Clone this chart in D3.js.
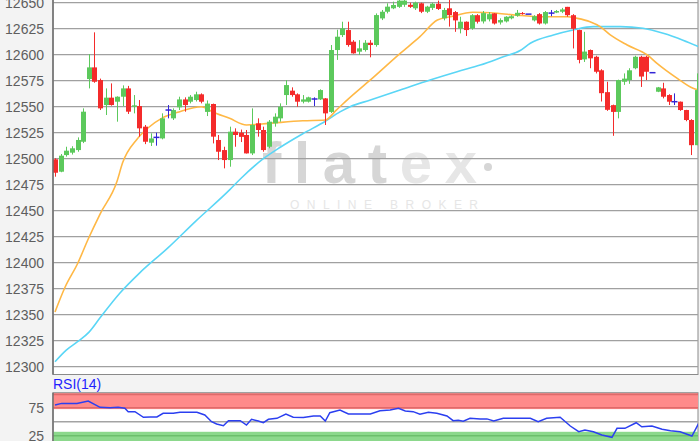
<!DOCTYPE html>
<html>
<head>
<meta charset="utf-8">
<script src="https://cdn.jsdelivr.net/npm/d3@7"></script>
<style>
  body { margin: 0; background: #f3f3f3; }
  svg { display: block; font-family: Arial, "Liberation Sans", sans-serif; }
</style>
</head>
<body>
<div id="chart-area"></div>
<script>
// candle chart with two moving averages + RSI(14) panel

const WIDTH = 700;
const HEIGHT = 441;

// price candles, one per bar
const opens = [12499.4, 12487.5, 12503.5, 12505.8, 12508.3, 12516.3, 12576.6, 12587.8, 12575.6, 12551.6,
  12558.7, 12554.8, 12559.6, 12567.6, 12550, 12550.6, 12530.8, 12515.4, 12520.5, 12519.5,
  12546.8, 12538.8, 12549.4, 12557, 12554.8, 12556.4, 12561.9, 12545, 12552.6, 12518,
  12508.3, 12498.7, 12526, 12525, 12522.8, 12505.1, 12534, 12527.6, 12511.5, 12534,
  12538.8, 12561.2, 12565.4, 12561.9, 12554.8, 12554.8, 12557.4, 12557, 12558, 12545,
  12604.5, 12618.9, 12623.7, 12612.5, 12602.9, 12604.5, 12611.5, 12609.3, 12634.9, 12641.3,
  12644.6, 12646, 12648, 12648, 12644.6, 12649.4, 12641.3, 12645, 12649, 12635,
  12644.6, 12641, 12625.3, 12631.7, 12625.3, 12638, 12632, 12634, 12639.7, 12631,
  12632, 12635, 12637.5, 12640, 12639, 12633, 12639, 12630, 12640, 12640.5,
  12641.3, 12646, 12638, 12623.7, 12595.5, 12604.5, 12598, 12585, 12564, 12551.5,
  12545, 12574, 12575.6, 12587, 12598, 12598, 12582.7, 12564.4, 12567.6, 12561.2,
  12554.8, 12554.8, 12546.8, 12537.2, 12513];
const highs = [12500.5, 12504.5, 12511.5, 12512, 12520.5, 12548.4, 12600.6, 12621.5, 12577, 12567.6,
  12572.4, 12560, 12570.5, 12570, 12561.2, 12556.4, 12532.4, 12524.4, 12525, 12543.6,
  12551.6, 12548.4, 12559.6, 12559, 12561.2, 12564.4, 12562.8, 12556, 12553, 12522.8,
  12511.5, 12530.8, 12529.2, 12528, 12527.6, 12548.4, 12538.8, 12530.8, 12537.2, 12543.6,
  12553.2, 12575.6, 12568.6, 12562.8, 12561.2, 12559.6, 12559, 12566.7, 12558.3, 12609.3,
  12624, 12631.7, 12631.7, 12614, 12614, 12614, 12614, 12639.7, 12643, 12649.4,
  12651, 12654, 12655, 12650, 12651, 12650, 12647, 12650, 12652, 12645,
  12652.6, 12642, 12636.5, 12632, 12639, 12639, 12642, 12641, 12640, 12635,
  12637, 12638, 12643, 12641, 12639, 12638, 12640, 12642, 12643, 12643,
  12645, 12646, 12639, 12624, 12622, 12605, 12599, 12586, 12574, 12552,
  12576, 12582, 12587, 12599, 12599, 12599, 12582.7, 12569, 12573, 12562,
  12562.8, 12555, 12547, 12538, 12582];
const lows = [12482.7, 12487, 12502, 12504, 12506.7, 12515, 12567.6, 12573, 12546.8, 12542,
  12551, 12535.6, 12550.6, 12543, 12543.6, 12521.2, 12514, 12512.2, 12512.5, 12518.6,
  12538.8, 12537.2, 12546.8, 12545.2, 12553.2, 12555, 12553.2, 12541, 12514.7, 12498.7,
  12490.7, 12492.3, 12511.5, 12516, 12505, 12503.5, 12521.2, 12506.7, 12510, 12530.8,
  12535.6, 12551.6, 12559.6, 12550, 12553.2, 12554, 12550.6, 12556.4, 12532.4, 12544,
  12595, 12617, 12607.7, 12601, 12599.7, 12603, 12597.5, 12607.7, 12633.3, 12639.7,
  12643.8, 12645, 12646, 12645, 12643, 12640, 12640, 12643, 12643, 12633,
  12627, 12622, 12620.5, 12618, 12624, 12630, 12630, 12632, 12629, 12629,
  12631, 12634, 12636.5, 12638.5, 12639, 12632, 12629, 12629, 12637, 12640,
  12640, 12636.5, 12606, 12591.7, 12593, 12587, 12582, 12555, 12546, 12522,
  12538.8, 12571, 12572, 12586, 12569, 12575.6, 12582.7, 12564, 12558, 12551.6,
  12551.6, 12546, 12536, 12503.5, 12513];
const closes = [12486.5, 12502.9, 12507.7, 12510, 12518, 12545.2, 12587.8, 12574, 12548.4, 12558.7,
  12551.6, 12559.6, 12567.6, 12545.2, 12551.3, 12529.2, 12516.3, 12519.5, 12520.5, 12538.8,
  12546.8, 12546.8, 12557, 12551.6, 12559.6, 12561.9, 12554.8, 12553, 12521.2, 12506.7,
  12498.7, 12526, 12522.8, 12521, 12505.1, 12532.4, 12527.6, 12508.3, 12535.6, 12540.4,
  12550, 12570.8, 12561.2, 12554.8, 12557, 12559, 12557.4, 12566, 12543.6, 12604.5,
  12617.3, 12625.3, 12609.3, 12601.3, 12606.1, 12611.5, 12609.3, 12638.1, 12641.3, 12646.2,
  12647.8, 12652, 12652, 12646, 12650, 12641.3, 12646.2, 12649, 12644, 12643,
  12638, 12633, 12631.7, 12623.7, 12638, 12631.7, 12640, 12639, 12630, 12633.3,
  12636.5, 12637, 12640.3, 12639, 12639, 12637, 12630, 12641, 12640, 12642,
  12643.5, 12638, 12625, 12595, 12603, 12596.5, 12583.6, 12563, 12547, 12545,
  12575.6, 12577, 12585, 12598, 12579, 12583.6, 12582.7, 12568.6, 12559.6, 12554.8,
  12554.8, 12546.8, 12537.2, 12513, 12566];

// moving averages, sampled at bar positions
const maFastIdx = [0, 1.8, 4, 5.9, 8, 11, 12, 14.6, 16.5, 19, 22, 26, 28, 31, 34, 38, 44, 48, 50, 52, 56, 61.3, 64.8, 67.9, 70.2, 74.2, 78.5, 82, 86.7, 91, 92.7, 95, 96.8, 98.6, 101.6, 105.2, 106.9, 110.5, 113.3, 114.3];
const maFastVal = [12352.6, 12376.6, 12399, 12422.8, 12446.8, 12478, 12496, 12519, 12529.5, 12539, 12545, 12550, 12545, 12538.8, 12532.4, 12534, 12536.5, 12537.2, 12547, 12557, 12575.7, 12601.3, 12617.3, 12633.4, 12636.5, 12640.8, 12639.8, 12638, 12636.5, 12636.5, 12635, 12631.7, 12627, 12619, 12609.3, 12599.7, 12591.7, 12577.3, 12567.7, 12566];
const maSlowIdx = [0, 2, 4, 6, 8, 11.5, 15, 20, 25, 31, 33, 37, 40, 44, 48, 50.6, 52.4, 56, 61.3, 66.6, 71.4, 75.5, 79.6, 82.6, 84.4, 88.5, 92, 95.6, 100.4, 104.4, 108, 111.5, 114.3];
const maSlowVal = [12304.8, 12316, 12324, 12333, 12347, 12370.6, 12390, 12414, 12440, 12470, 12481, 12500, 12511, 12524, 12536, 12545, 12550, 12556.4, 12566, 12575.7, 12583.7, 12590, 12598, 12604, 12611, 12619, 12623.8, 12627, 12627, 12625.4, 12620.6, 12614, 12607.7];

// RSI(14)
const rsiIdx = [0, 1.2, 3.9, 5.9, 8, 9.8, 11.2, 12.4, 13, 14.2, 15.7, 16.9, 18.1, 19.2, 21, 22.2, 25.2, 26.6, 27.8, 28.7, 29.9, 30.8, 32.9, 34, 34.9, 36.1, 37, 37.9, 39.4, 41, 42.3, 44.1, 45.9, 47.1, 48, 48.8, 50.6, 52.1, 53.6, 56, 57.7, 59.5, 61, 62.2, 63.6, 64.8, 66.3, 67.8, 69.6, 70.7, 71.6, 72.5, 73.7, 75.5, 76.7, 77.9, 79.6, 84.4, 85.8, 87.3, 89.7, 91.5, 93, 94.1, 95.6, 97.1, 98.9, 99.8, 101.2, 103.2, 104.2, 106, 107.8, 109.3, 111, 113.1, 114.3];
const rsiVal = [79.8, 82.7, 82.7, 87, 75.7, 75, 75.7, 74, 67.9, 67.9, 57.9, 58.6, 58.6, 65, 65, 66.8, 66.8, 62, 50, 45.9, 42.9, 51.8, 51.8, 44, 54.2, 51.2, 48.2, 54.2, 56, 63.8, 57.9, 57.4, 60.2, 60.2, 51.2, 66, 70.9, 63.8, 63.8, 63.8, 69.7, 70.9, 73.8, 69.1, 67.9, 63.2, 66.8, 65, 60.2, 51.8, 52.4, 50.7, 56, 55, 55, 51.2, 56, 56, 50, 56, 57.9, 42.3, 32.1, 35.2, 32.1, 26.3, 22.1, 38.2, 38.2, 48.2, 41, 42.3, 36.4, 33.9, 32.1, 24.5, 47.1];

const priceTicks = [12300, 12325, 12350, 12375, 12400, 12425, 12450, 12475, 12500, 12525, 12550, 12575, 12600, 12625, 12650];
const rsiTicks = [25, 50, 75];
const rsiLabels = [25, 75];
const rsiUpperBand = [72.5, 100];
const rsiLowerBand = [0, 32];

const PLOT_LEFT = 53;
const PLOT_RIGHT = 698;
const MAIN_BOTTOM = 374.5;
const RSI_TOP = 392.7;

const GREEN = "#5cc95c";
const RED = "#f42b2b";
const DOJI = "#3326d6";

let svg = d3.select("#chart-area").append("svg")
    .attr("width", WIDTH)
    .attr("height", HEIGHT);

let x = d3.scaleLinear().domain([0, opens.length - 1]).range([55, 697]);
let y = d3.scaleLinear().domain([12300, 12650]).range([366.7, 2.7]);
let yR = d3.scaleLinear().domain([0, 100]).range([449.7, 393.7]);

// plot backgrounds
svg.append("rect")
    .attr("x", PLOT_LEFT).attr("y", -5)
    .attr("width", PLOT_RIGHT - PLOT_LEFT).attr("height", MAIN_BOTTOM + 5)
    .attr("fill", "#fff").attr("stroke", "#8a8a8a");
svg.append("rect")
    .attr("x", PLOT_LEFT).attr("y", RSI_TOP)
    .attr("width", PLOT_RIGHT - PLOT_LEFT).attr("height", 60)
    .attr("fill", "#fff").attr("stroke", "#8a8a8a");

svg.append("clipPath").attr("id", "mainClip").append("rect")
    .attr("x", PLOT_LEFT).attr("y", -5)
    .attr("width", PLOT_RIGHT - PLOT_LEFT).attr("height", MAIN_BOTTOM + 5);
svg.append("clipPath").attr("id", "rsiClip").append("rect")
    .attr("x", PLOT_LEFT).attr("y", RSI_TOP)
    .attr("width", PLOT_RIGHT - PLOT_LEFT).attr("height", 60);

// watermark
let wm = svg.append("g").attr("class", "watermark");
wm.append("text")
    .attr("x", 262).attr("y", 183)
    .attr("textLength", 215).attr("lengthAdjust", "spacing")
    .style("font-size", "58px").style("font-weight", "bold")
    .attr("fill", "#d6d6d6")
    .text("flat")
    .append("tspan").attr("fill", "#e6e6e6").text("ex");
wm.append("circle").attr("cx", 488).attr("cy", 167).attr("r", 4).attr("fill", "#d6d6d6");
wm.append("text")
    .attr("x", 290).attr("y", 209)
    .attr("textLength", 188).attr("lengthAdjust", "spacing")
    .style("font-size", "12px")
    .attr("fill", "#e6e6e6")
    .text("ONLINE BROKER");

// main grid + labels
svg.append("g").selectAll("line")
    .data(priceTicks)
    .enter().append("line")
    .attr("x1", PLOT_LEFT).attr("x2", PLOT_RIGHT)
    .attr("y1", d => y(d)).attr("y2", d => y(d))
    .attr("stroke", "#a0a0a0").attr("stroke-width", 1.2);

svg.append("g").selectAll("text")
    .data(priceTicks)
    .enter().append("text")
    .attr("x", 44).attr("y", d => y(d) + 5)
    .attr("text-anchor", "end")
    .style("font-size", "14px")
    .attr("fill", "#5e5e5e")
    .text(d => d);

// moving averages
let maLine = d3.line().x(d => x(d[0])).y(d => y(d[1])).curve(d3.curveMonotoneX);
let main = svg.append("g").attr("clip-path", "url(#mainClip)");

main.append("path")
    .datum(maSlowIdx.map((d, i) => [d, maSlowVal[i]]))
    .attr("d", maLine)
    .attr("fill", "none").attr("stroke", "#5ad6f6").attr("stroke-width", 1.6);
main.append("path")
    .datum(maFastIdx.map((d, i) => [d, maFastVal[i]]))
    .attr("d", maLine)
    .attr("fill", "none").attr("stroke", "#ffb845").attr("stroke-width", 1.6);

// candles
let candles = opens.map((o, i) => ({ i: i, o: o, h: highs[i], l: lows[i], c: closes[i] }));
let colorOf = d => d.c > d.o ? GREEN : (d.c < d.o ? RED : DOJI);

main.selectAll(".wick")
    .data(candles.filter(d => d.h > d.l))
    .enter().append("line")
    .attr("class", "wick")
    .attr("x1", d => Math.round(x(d.i)) + 0.5).attr("x2", d => Math.round(x(d.i)) + 0.5)
    .attr("y1", d => y(d.h)).attr("y2", d => y(d.l))
    .attr("stroke", colorOf).attr("stroke-width", 1);

main.selectAll(".body")
    .data(candles.filter(d => d.c !== d.o))
    .enter().append("rect")
    .attr("class", "body")
    .attr("x", d => Math.round(x(d.i)) - 2)
    .attr("width", 5)
    .attr("y", d => y(Math.max(d.o, d.c)))
    .attr("height", d => Math.max(1, Math.abs(y(d.o) - y(d.c))))
    .attr("fill", colorOf);

main.selectAll(".doji")
    .data(candles.filter(d => d.c === d.o))
    .enter().append("line")
    .attr("class", "doji")
    .attr("x1", d => Math.round(x(d.i)) - 2.5).attr("x2", d => Math.round(x(d.i)) + 3.5)
    .attr("y1", d => y(d.c)).attr("y2", d => y(d.c))
    .attr("stroke", DOJI).attr("stroke-width", 1.5);

// left axis line
svg.append("line")
    .attr("x1", PLOT_LEFT).attr("x2", PLOT_LEFT)
    .attr("y1", 0).attr("y2", MAIN_BOTTOM)
    .attr("stroke", "#6e6e6e").attr("stroke-width", 1.5);

// RSI panel
let rsi = svg.append("g").attr("clip-path", "url(#rsiClip)");
rsi.append("rect")
    .attr("x", PLOT_LEFT).attr("width", PLOT_RIGHT - PLOT_LEFT)
    .attr("y", yR(rsiUpperBand[1])).attr("height", yR(rsiUpperBand[0]) - yR(rsiUpperBand[1]))
    .attr("fill", "#ff8a8a");
rsi.append("rect")
    .attr("x", PLOT_LEFT).attr("width", PLOT_RIGHT - PLOT_LEFT)
    .attr("y", yR(rsiLowerBand[1])).attr("height", yR(rsiLowerBand[0]) - yR(rsiLowerBand[1]))
    .attr("fill", "#8cd88c");
rsi.append("line")
    .attr("x1", PLOT_LEFT).attr("x2", PLOT_RIGHT)
    .attr("y1", RSI_TOP + 1.5).attr("y2", RSI_TOP + 1.5)
    .attr("stroke", "#e06a6a").attr("stroke-width", 2);
rsi.selectAll(".rsi-grid")
    .data(rsiTicks)
    .enter().append("line")
    .attr("class", "rsi-grid")
    .attr("x1", PLOT_LEFT).attr("x2", PLOT_RIGHT)
    .attr("y1", d => yR(d)).attr("y2", d => yR(d))
    .attr("stroke", d => d === 75 ? "#e06a6a" : (d === 25 ? "#6cbf6c" : "#a3a3a3"))
    .attr("stroke-width", 1.5);
rsi.append("path")
    .datum(rsiIdx.map((d, i) => [d, rsiVal[i]]))
    .attr("d", d3.line().x(d => x(d[0])).y(d => yR(d[1])))
    .attr("fill", "none").attr("stroke", "#2b3ff0").attr("stroke-width", 1.5);

svg.append("line")
    .attr("x1", PLOT_LEFT).attr("x2", PLOT_LEFT)
    .attr("y1", RSI_TOP).attr("y2", HEIGHT)
    .attr("stroke", "#6e6e6e").attr("stroke-width", 1.5);

svg.append("g").selectAll("text")
    .data(rsiLabels)
    .enter().append("text")
    .attr("x", 44).attr("y", d => yR(d) + 5)
    .attr("text-anchor", "end")
    .style("font-size", "14px")
    .attr("fill", "#5e5e5e")
    .text(d => d);

svg.append("text")
    .attr("x", 53).attr("y", 389)
    .style("font-size", "14px")
    .attr("fill", "#1f1fff")
    .text("RSI(14)");
</script>
</body>
</html>
